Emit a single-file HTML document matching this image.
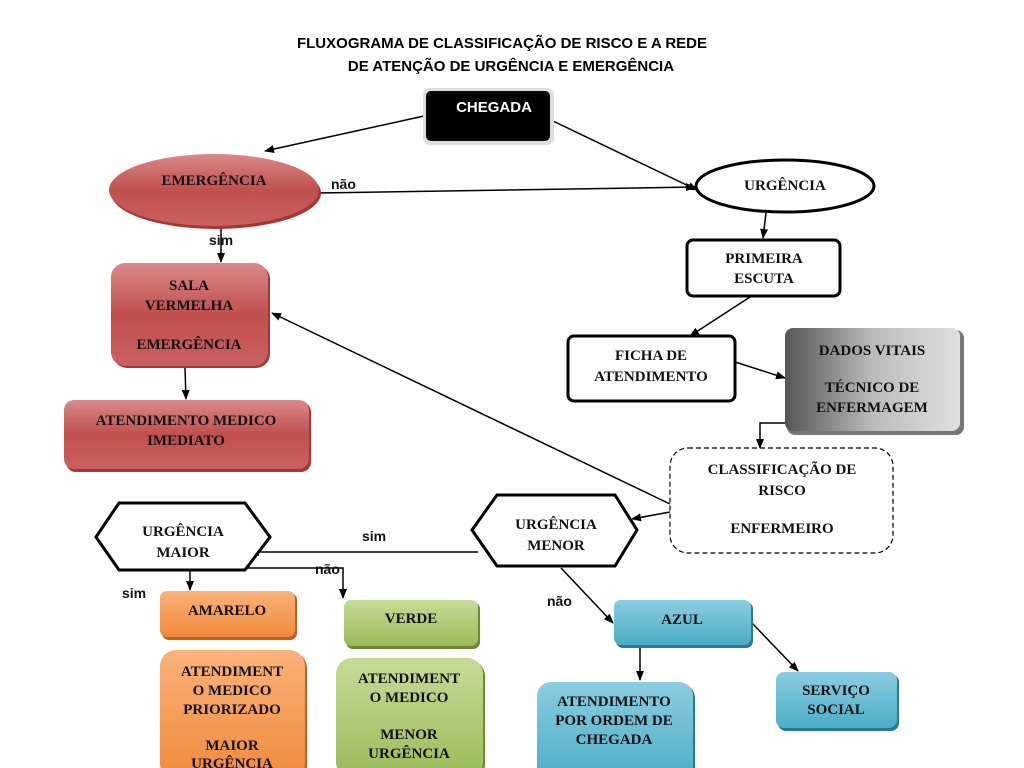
<!DOCTYPE html>
<html><head><meta charset="utf-8"><style>
html,body{margin:0;padding:0;background:#fff;width:1024px;height:768px;overflow:hidden}
svg{display:block}
.t{font-family:"Liberation Serif",serif;font-weight:bold;font-size:15px;fill:#111;text-anchor:middle}
.s{font-family:"Liberation Sans",sans-serif;font-weight:bold;font-size:14px;fill:#111}
</style></head><body>
<svg width="1024" height="768" viewBox="0 0 1024 768" xmlns="http://www.w3.org/2000/svg">
<defs>
<marker id="a" markerWidth="10" markerHeight="10" refX="9" refY="5" orient="auto" markerUnits="userSpaceOnUse"><path d="M0,1 L10,5 L0,9 z" fill="#000"/></marker>
<linearGradient id="red" x1="0" y1="0" x2="0" y2="1"><stop offset="0" stop-color="#d98a8a"/><stop offset="0.5" stop-color="#c0504d"/><stop offset="1" stop-color="#c96060"/></linearGradient>
<linearGradient id="gray" x1="0" y1="0" x2="1" y2="0"><stop offset="0" stop-color="#555"/><stop offset="0.5" stop-color="#bbb"/><stop offset="1" stop-color="#e0e0e0"/></linearGradient>
<linearGradient id="or" x1="0" y1="0" x2="0" y2="1"><stop offset="0" stop-color="#fab27a"/><stop offset="1" stop-color="#f08a3c"/></linearGradient>
<linearGradient id="gr" x1="0" y1="0" x2="0" y2="1"><stop offset="0" stop-color="#c5dc98"/><stop offset="1" stop-color="#9bbb59"/></linearGradient>
<linearGradient id="bl" x1="0" y1="0" x2="0" y2="1"><stop offset="0" stop-color="#8ccde0"/><stop offset="1" stop-color="#4bacc6"/></linearGradient>
</defs>
<text x="502" y="48" font-family="Liberation Sans,sans-serif" font-weight="bold" font-size="15" text-anchor="middle">FLUXOGRAMA DE CLASSIFICAÇÃO DE RISCO E A REDE</text>
<text x="511" y="71" font-family="Liberation Sans,sans-serif" font-weight="bold" font-size="15" text-anchor="middle">DE ATENÇÃO DE URGÊNCIA E EMERGÊNCIA</text>

<g stroke="#000" stroke-width="1.5" fill="none">
<line x1="424" y1="116" x2="265" y2="151" marker-end="url(#a)"/>
<line x1="553" y1="121" x2="697" y2="190" marker-end="url(#a)"/>
<line x1="318" y1="193" x2="695" y2="187" marker-end="url(#a)"/>
<line x1="221" y1="226" x2="221" y2="262" marker-end="url(#a)"/>
<line x1="185" y1="368" x2="186" y2="399" marker-end="url(#a)"/>
<line x1="766" y1="213" x2="763" y2="238" marker-end="url(#a)"/>
<line x1="750" y1="297" x2="690" y2="336" marker-end="url(#a)"/>
<line x1="735" y1="362" x2="785" y2="378" marker-end="url(#a)"/>
<polyline points="785,423 760,423 760,448" marker-end="url(#a)"/>
<line x1="670" y1="504" x2="272" y2="313" marker-end="url(#a)"/>
<line x1="670" y1="512" x2="632" y2="519" marker-end="url(#a)"/>
<line x1="478" y1="552" x2="250" y2="552" marker-end="url(#a)"/>
<polyline points="180,568 343,568 343,598" marker-end="url(#a)"/>
<line x1="190" y1="571" x2="190" y2="590" marker-end="url(#a)"/>
<line x1="561" y1="568" x2="613" y2="623" marker-end="url(#a)"/>
<line x1="640" y1="646" x2="640" y2="680" marker-end="url(#a)"/>
<line x1="751" y1="622" x2="798" y2="671" marker-end="url(#a)"/>
</g>

<rect x="423" y="88" width="131" height="57" rx="7" fill="#ddd"/>
<rect x="426" y="91" width="124" height="50" rx="5" fill="#000"/>
<text x="494" y="112" font-family="Liberation Sans,sans-serif" font-weight="bold" font-size="15" fill="#fff" text-anchor="middle">CHEGADA</text>

<ellipse cx="216" cy="193" rx="105" ry="36" fill="#a33" />
<ellipse cx="214" cy="190" rx="105" ry="36" fill="url(#red)"/>
<text class="t" x="214" y="185">EMERGÊNCIA</text>
<text class="s" x="331" y="189">não</text>
<text class="s" x="209" y="245">sim</text>

<ellipse cx="785" cy="186" rx="89" ry="26" fill="#fff" stroke="#000" stroke-width="3"/>
<text class="t" x="785" y="190">URGÊNCIA</text>

<rect x="113" y="265" width="157" height="103" rx="14" fill="#a33"/>
<rect x="111" y="263" width="157" height="103" rx="14" fill="url(#red)"/>
<text class="t" x="189" y="290">SALA</text><text class="t" x="189" y="310">VERMELHA</text><text class="t" x="189" y="349">EMERGÊNCIA</text>

<rect x="66" y="402" width="245" height="70" rx="10" fill="#a33"/>
<rect x="64" y="400" width="245" height="69" rx="10" fill="url(#red)"/>
<text class="t" x="186" y="425">ATENDIMENTO MEDICO</text><text class="t" x="186" y="445">IMEDIATO</text>

<rect x="687" y="240" width="153" height="56" rx="6" fill="#fff" stroke="#000" stroke-width="3"/>
<text class="t" x="764" y="263">PRIMEIRA</text><text class="t" x="764" y="283">ESCUTA</text>

<rect x="568" y="336" width="167" height="65" rx="6" fill="#fff" stroke="#000" stroke-width="3"/>
<text class="t" x="651" y="360">FICHA DE</text><text class="t" x="651" y="381">ATENDIMENTO</text>

<rect x="787" y="330" width="177" height="105" rx="8" fill="#777"/>
<rect x="785" y="328" width="175" height="103" rx="8" fill="url(#gray)"/>
<text class="t" x="872" y="355">DADOS VITAIS</text><text class="t" x="872" y="392">TÉCNICO DE</text><text class="t" x="872" y="412">ENFERMAGEM</text>

<rect x="670" y="448" width="223" height="105" rx="18" fill="#fff" stroke="#000" stroke-width="1.2" stroke-dasharray="5,3"/>
<text class="t" x="782" y="474">CLASSIFICAÇÃO DE</text><text class="t" x="782" y="495">RISCO</text><text class="t" x="782" y="533">ENFERMEIRO</text>

<polygon points="96,537 119,503 245,503 270,537 245,570 119,570" fill="#fff" stroke="#000" stroke-width="3"/>
<text class="t" x="183" y="536">URGÊNCIA</text><text class="t" x="183" y="557">MAIOR</text>
<polygon points="472,530 497,495 615,495 637,530 615,566 497,566" fill="#fff" stroke="#000" stroke-width="3"/>
<text class="t" x="556" y="529">URGÊNCIA</text><text class="t" x="556" y="550">MENOR</text>
<text class="s" x="362" y="541">sim</text>
<text class="s" x="315" y="574">não</text>
<text class="s" x="122" y="598">sim</text>
<text class="s" x="547" y="606">não</text>

<rect x="162" y="593" width="135" height="47" rx="7" fill="#c0601a"/>
<rect x="160" y="591" width="135" height="46" rx="7" fill="url(#or)"/>
<text class="t" x="227" y="615">AMARELO</text>
<rect x="346" y="602" width="134" height="47" rx="7" fill="#6c8a30"/>
<rect x="344" y="600" width="134" height="46" rx="7" fill="url(#gr)"/>
<text class="t" x="411" y="623">VERDE</text>
<rect x="162" y="652" width="145" height="130" rx="16" fill="#c0601a"/>
<rect x="160" y="650" width="145" height="130" rx="16" fill="url(#or)"/>
<text class="t" x="232" y="676">ATENDIMENT</text><text class="t" x="232" y="695">O MEDICO</text><text class="t" x="232" y="714">PRIORIZADO</text><text class="t" x="232" y="750">MAIOR</text><text class="t" x="232" y="768">URGÊNCIA</text>
<rect x="338" y="660" width="147" height="120" rx="16" fill="#6c8a30"/>
<rect x="336" y="658" width="147" height="120" rx="16" fill="url(#gr)"/>
<text class="t" x="409" y="683">ATENDIMENT</text><text class="t" x="409" y="702">O MEDICO</text><text class="t" x="409" y="739">MENOR</text><text class="t" x="409" y="758">URGÊNCIA</text>

<rect x="616" y="602" width="137" height="46" rx="7" fill="#2a7b91"/>
<rect x="614" y="600" width="137" height="45" rx="7" fill="url(#bl)"/>
<text class="t" x="682" y="624">AZUL</text>
<rect x="539" y="684" width="156" height="100" rx="14" fill="#2a7b91"/>
<rect x="537" y="682" width="156" height="100" rx="14" fill="url(#bl)"/>
<text class="t" x="614" y="706">ATENDIMENTO</text><text class="t" x="614" y="725">POR ORDEM DE</text><text class="t" x="614" y="744">CHEGADA</text>
<rect x="778" y="674" width="121" height="57" rx="8" fill="#2a7b91"/>
<rect x="776" y="672" width="121" height="56" rx="8" fill="url(#bl)"/>
<text class="t" x="836" y="695">SERVIÇO</text><text class="t" x="836" y="714">SOCIAL</text>
</svg>
</body></html>
